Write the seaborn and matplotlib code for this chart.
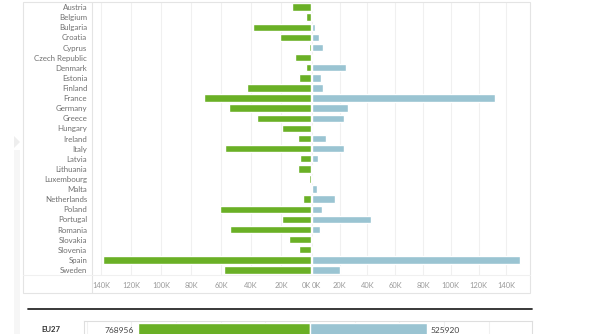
import matplotlib
matplotlib.use("Agg")
import matplotlib.pyplot as plt
import seaborn as sns
import pandas as pd
from matplotlib.patches import Rectangle, Polygon
from matplotlib.lines import Line2D

# Country flows, in thousands
countries = ["Austria", "Belgium", "Bulgaria", "Croatia", "Cyprus", "Czech Republic",
             "Denmark", "Estonia", "Finland", "France", "Germany", "Greece", "Hungary",
             "Ireland", "Italy", "Latvia", "Lithuania", "Luxembourg", "Malta",
             "Netherlands", "Poland", "Portugal", "Romania", "Slovakia", "Slovenia",
             "Spain", "Sweden"]
outflow_k = [13, 3.5, 39, 21, 1.5, 11, 3.5, 8, 42.5, 71.5, 55, 36, 19.5,
             9, 57.5, 7.3, 9, 1.1, 0, 5.3, 61, 19.3, 54, 15, 7.8, 139, 58]
inflow_k = [0, 0.5, 2.4, 5, 8, 0, 24.5, 6.5, 8, 132, 26, 23, 0,
            10, 23.5, 4.3, 1, 0, 4, 17, 7, 42.5, 6.2, 0, 0, 150, 20.5]
tick_k = [0, 20, 40, 60, 80, 100, 120, 140]

eu_label = "EU27"
eu_out = 768956
eu_in = 525920

GREEN = "#6ab026"
BLUE = "#9ac4d2"
GRID = "#f0f0f0"
FRAME = "#e4e4e4"
TXT = "#707070"
TICK = "#9a9a9a"

sns.set_theme(style="white")
plt.rcParams["font.family"] = ["Lato", "DejaVu Sans"]

W, H = 600, 334
fig = plt.figure(figsize=(W / 100, H / 100), dpi=100)
fig.patch.set_facecolor("white")


def px_axes(x0, y0, x1, y1):
    return fig.add_axes([x0 / W, 1 - y1 / H, (x1 - x0) / W, (y1 - y0) / H])


def fx(x):
    return x / W


def fy(y):
    return 1 - y / H


df = pd.DataFrame({"country": countries, "out": outflow_k, "inn": inflow_k})

# left pane: outflow, growing leftwards from zero
axL = px_axes(92, 2, 311, 275)
sns.barplot(data=df, y="country", x="out", orient="h", color=GREEN,
            saturation=1, width=0.74, ax=axL, zorder=3)
axL.set_xlim(146, 0)

# right pane: inflow
axR = px_axes(311, 2, 530, 275)
sns.barplot(data=df, y="country", x="inn", orient="h", color=BLUE,
            saturation=1, width=0.74, ax=axR, zorder=3)
axR.set_xlim(-0.6, 157)

for ax in (axL, axR):
    ax.set_facecolor("none")
    ax.set_xlabel("")
    ax.set_ylabel("")
    ax.set_xticks(tick_k)
    ax.set_xticklabels([f"{t}K" for t in tick_k])
    ax.tick_params(axis="x", length=0, pad=5, labelsize=5.4, labelcolor=TICK)
    for t in tick_k:
        ax.axvline(t, color=GRID, lw=0.8, zorder=0)
    for s in ax.spines.values():
        s.set_visible(False)

axL.tick_params(axis="y", length=0, pad=3.5, labelsize=5.7, labelcolor=TXT)
axR.set_yticks([])
axL.get_xticklabels()[0].set_horizontalalignment("right")
axR.get_xticklabels()[0].set_horizontalalignment("left")

# sheet frame and dividers
fig.add_artist(Rectangle((fx(23), fy(293)), fx(530) - fx(23), fy(2) - fy(293),
                         transform=fig.transFigure, fill=False, ec=FRAME, lw=0.8))
fig.add_artist(Line2D([fx(92), fx(92)], [fy(2), fy(293)], color=FRAME, lw=0.8))
fig.add_artist(Line2D([fx(23), fx(530)], [fy(275), fy(275)], color="#f0f0f0", lw=0.8))

# side handle
fig.add_artist(Rectangle((fx(14), fy(334)), fx(6), fy(150) - fy(334),
                         transform=fig.transFigure, fc="#f6f6f6", ec="none"))
fig.add_artist(Polygon([(fx(14), fy(136)), (fx(14), fy(148)), (fx(20), fy(142))],
                       closed=True, transform=fig.transFigure, fc="#eeeeee", ec="none"))

# separator above the total row
fig.add_artist(Line2D([fx(28), fx(532)], [fy(309), fy(309)], color="#2a2a2a", lw=1.3))

# EU27 total row
eu_df = pd.DataFrame({"group": [eu_label, eu_label], "value": [-eu_out, eu_in],
                      "side": ["out", "in"]})
axE = px_axes(84, 321, 532, 345)
sns.barplot(data=eu_df, y="group", x="value", hue="side", orient="h",
            palette={"out": GREEN, "in": BLUE}, saturation=1, width=0.8,
            dodge=False, legend=False, ax=axE, zorder=3)
axE.set_xlim(-1012000, 994000)
for v in range(-1000000, 1000001, 200000):
    axE.axvline(v, color=GRID, lw=0.8, zorder=0)
axE.set_xticks([])
axE.set_yticks([])
axE.set_xlabel("")
axE.set_ylabel("")
for s in axE.spines.values():
    s.set_color("#dedede")
    s.set_linewidth(0.8)

axE.annotate(f"{eu_out}", xy=(-eu_out, 0), xytext=(-3, 1.5), textcoords="offset points",
             ha="right", va="center", fontsize=6.0, color="#444444")
axE.annotate(f"{eu_in}", xy=(eu_in, 0), xytext=(2.5, 1.5), textcoords="offset points",
             ha="left", va="center", fontsize=6.0, color="#444444")
fig.text(fx(51), fy(329), eu_label, ha="center", va="center", fontsize=5.6,
         color="#333333", fontweight="bold")

fig.savefig("out.png", dpi=100, facecolor="white")
